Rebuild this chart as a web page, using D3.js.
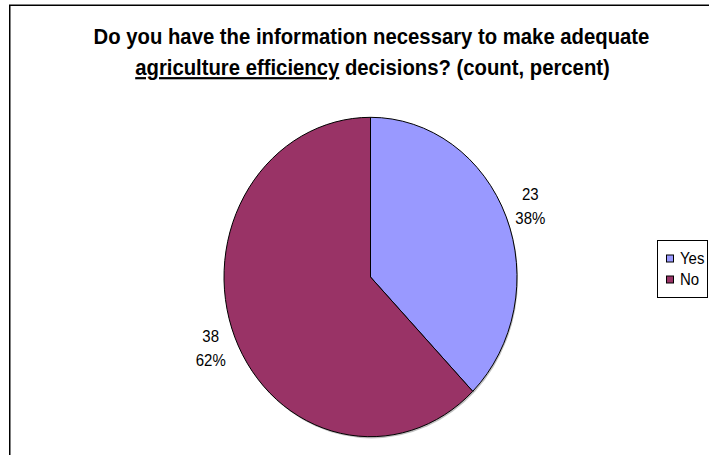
<!DOCTYPE html>
<html>
<head>
<meta charset="utf-8">
<script src="https://cdn.jsdelivr.net/npm/d3@7/dist/d3.min.js"></script>
<style>
  html, body { margin: 0; padding: 0; background: #fff; }
  svg { display: block; font-family: Arial, "Liberation Sans", sans-serif; }
</style>
</head>
<body>
<svg id="chart" width="709" height="455"></svg>
<script>
// Survey answers
const categories = ["Yes", "No"];
const counts = [23, 38];
const colors = ["#9999FF", "#993366"];
const titleLine1 = "Do you have the information necessary to make adequate";
const titleLine2Underlined = "agriculture efficiency";
const titleLine2Rest = " decisions? (count, percent)";

const W = 709, H = 455;
const stretch = 1.09;          // the whole chart is drawn slightly taller than wide
const svg = d3.select("#chart");

// text placed at (x, y) with the same vertical stretch as the chart
function stretchedText(x, y) {
  return svg.append("g")
    .attr("transform", `translate(${x},${y}) scale(1,${stretch})`)
    .append("text").attr("fill", "#000");
}

// chart frame (runs off the right and bottom edges)
svg.append("rect")
  .attr("x", 9.75).attr("y", 5.25)
  .attr("width", 740).attr("height", 480)
  .attr("fill", "#fff").attr("stroke", "#000").attr("stroke-width", 1.5);

// title
stretchedText(371.5, 44)
  .attr("text-anchor", "middle").attr("font-weight", "bold").attr("font-size", 20.3)
  .text(titleLine1);
const t2 = stretchedText(372.5, 75)
  .attr("text-anchor", "middle").attr("font-weight", "bold").attr("font-size", 20.3);
t2.append("tspan").attr("text-decoration", "underline").text(titleLine2Underlined);
t2.append("tspan").text(titleLine2Rest);

// pie: drawn as a circle then stretched vertically into an ellipse
const cx = 370.5, cy = 277, rx = 146.5;
const sy = stretch;
const total = d3.sum(counts);
const pie = d3.pie().sort(null).value(d => d.value);
const arcs = pie(categories.map((c, i) => ({ name: c, value: counts[i], color: colors[i] })));
const arc = d3.arc().innerRadius(0).outerRadius(rx);

const pieG = svg.append("g").attr("transform", `translate(${cx},${cy}) scale(1,${sy})`);

// soft shadow under the pie
pieG.append("circle")
  .attr("cx", 1).attr("cy", 1.6).attr("r", rx)
  .attr("fill", "#000").attr("opacity", 0.25);

pieG.selectAll("path.slice")
  .data(arcs)
  .enter().append("path")
  .attr("class", "slice")
  .attr("d", arc)
  .attr("fill", d => d.data.color)
  .attr("stroke", "#000")
  .attr("stroke-width", 1)
  .attr("vector-effect", "non-scaling-stroke");

// value labels outside each slice: count on the first line, share on the second
const pct = d3.format(".0%");
const labelR = rx + 26;
arcs.forEach(d => {
  const a = (d.startAngle + d.endAngle) / 2;
  const lx = cx + Math.sin(a) * labelR;
  const ly = cy - Math.cos(a) * labelR * sy;
  const t = stretchedText(lx, ly)
    .attr("text-anchor", "middle")
    .attr("font-size", 15);
  t.append("tspan").attr("x", 0).attr("y", -5.5).text(d.data.value);
  t.append("tspan").attr("x", 0).attr("y", 16.5).text(pct(d.data.value / total));
});

// legend
const lg = svg.append("g");
lg.append("rect")
  .attr("x", 657.5).attr("y", 240.5)
  .attr("width", 50).attr("height", 57)
  .attr("fill", "#fff").attr("stroke", "#000").attr("stroke-width", 1);
const legendY = d3.scalePoint().domain(categories).range([258.5, 279.5]);
categories.forEach((c, i) => {
  lg.append("rect")
    .attr("x", 666.5).attr("y", legendY(c) - 3.5)
    .attr("width", 7).attr("height", 7)
    .attr("fill", colors[i]).attr("stroke", "#000").attr("stroke-width", 1);
  stretchedText(680, legendY(c) + 5.5)
    .attr("font-size", 15)
    .text(c);
});
</script>
</body>
</html>
